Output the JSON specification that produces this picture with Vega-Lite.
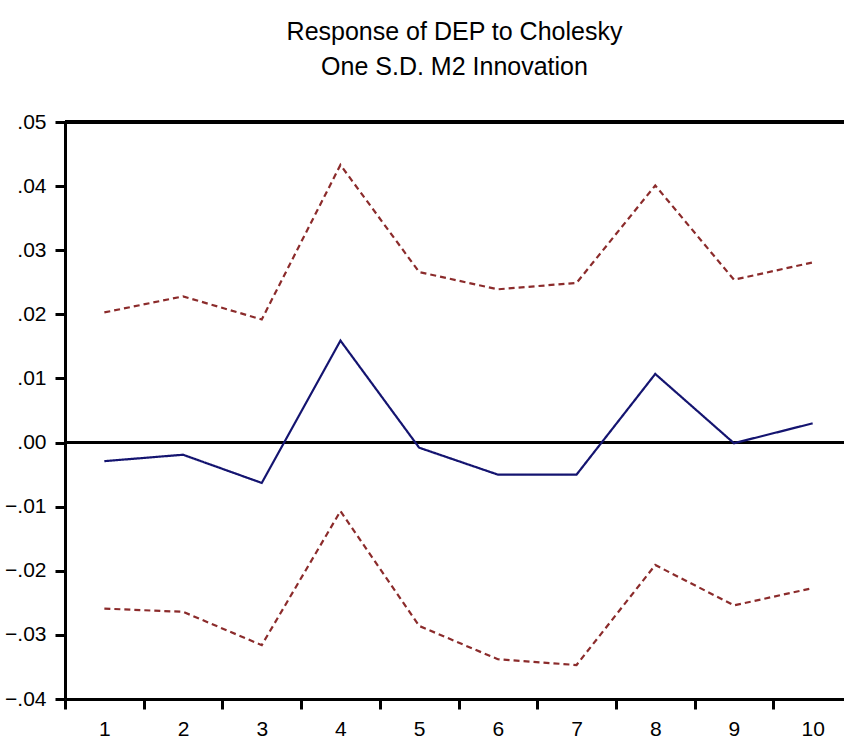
{
  "$schema": "https://vega.github.io/schema/vega-lite/v6.json",
  "width": 779,
  "height": 577,
  "autosize": {"type": "none"},
  "padding": {"left": 65, "top": 122, "right": 0, "bottom": 44},
  "background": "white",
  "title": {
    "text": ["Response of DEP to Cholesky", "One S.D. M2 Innovation"],
    "font": "Liberation Sans",
    "fontSize": 25,
    "fontWeight": "normal",
    "color": "black",
    "lineHeight": 35,
    "anchor": "middle",
    "frame": "group",
    "offset": 31
  },
  "data": {
    "values": [
      {"h": 1, "series": "Response", "value": -0.0029},
      {"h": 2, "series": "Response", "value": -0.0019},
      {"h": 3, "series": "Response", "value": -0.0063},
      {"h": 4, "series": "Response", "value": 0.0159},
      {"h": 5, "series": "Response", "value": -0.0008},
      {"h": 6, "series": "Response", "value": -0.0050},
      {"h": 7, "series": "Response", "value": -0.0050},
      {"h": 8, "series": "Response", "value": 0.0107},
      {"h": 9, "series": "Response", "value": -0.0001},
      {"h": 10, "series": "Response", "value": 0.0030},
      {"h": 1, "series": "Upper", "value": 0.0203},
      {"h": 2, "series": "Upper", "value": 0.0228},
      {"h": 3, "series": "Upper", "value": 0.0192},
      {"h": 4, "series": "Upper", "value": 0.0433},
      {"h": 5, "series": "Upper", "value": 0.0266},
      {"h": 6, "series": "Upper", "value": 0.0239},
      {"h": 7, "series": "Upper", "value": 0.0249},
      {"h": 8, "series": "Upper", "value": 0.0401},
      {"h": 9, "series": "Upper", "value": 0.0254},
      {"h": 10, "series": "Upper", "value": 0.0281},
      {"h": 1, "series": "Lower", "value": -0.0259},
      {"h": 2, "series": "Lower", "value": -0.0264},
      {"h": 3, "series": "Lower", "value": -0.0316},
      {"h": 4, "series": "Lower", "value": -0.0107},
      {"h": 5, "series": "Lower", "value": -0.0286},
      {"h": 6, "series": "Lower", "value": -0.0338},
      {"h": 7, "series": "Lower", "value": -0.0347},
      {"h": 8, "series": "Lower", "value": -0.0191},
      {"h": 9, "series": "Lower", "value": -0.0254},
      {"h": 10, "series": "Lower", "value": -0.0227}
    ]
  },
  "layer": [
    {
      "mark": {"type": "rule", "color": "black", "strokeWidth": 3},
      "encoding": {"y": {"datum": 0, "type": "quantitative"}}
    },
    {
      "mark": {"type": "rule", "color": "black", "strokeWidth": 3},
      "encoding": {"y": {"datum": 0.05, "type": "quantitative"}}
    },
    {
      "mark": {"type": "line", "strokeWidth": 2.2},
      "encoding": {
        "x": {
          "field": "h",
          "type": "ordinal",
          "bandPosition": 0.5,
          "scale": {"type": "band", "paddingInner": 0, "paddingOuter": 0, "range": [0, 787]},
          "axis": {
            "title": null,
            "labelAngle": 0,
            "tickBand": "extent",
            "tickSize": 10,
            "tickWidth": 3,
            "domainWidth": 3,
            "labelPadding": 9
          }
        },
        "y": {
          "field": "value",
          "type": "quantitative",
          "scale": {"domain": [-0.04, 0.05], "nice": false, "zero": false},
          "axis": {
            "title": null,
            "values": [-0.04, -0.03, -0.02, -0.01, 0, 0.01, 0.02, 0.03, 0.04, 0.05],
            "labelExpr": "replace(format(datum.value, '.2f'), '0.', '.')",
            "grid": false,
            "tickSize": 10,
            "tickWidth": 3,
            "domainWidth": 3,
            "labelPadding": 9
          }
        },
        "color": {
          "field": "series",
          "type": "nominal",
          "scale": {"domain": ["Response", "Upper", "Lower"], "range": ["#141470", "#8b2b2b", "#8b2b2b"]},
          "legend": null
        },
        "strokeDash": {
          "field": "series",
          "type": "nominal",
          "scale": {"domain": ["Response", "Upper", "Lower"], "range": [[1, 0], [6, 4], [6, 4]]},
          "legend": null
        }
      }
    }
  ],
  "config": {
    "view": {"stroke": null},
    "axis": {
      "labelFont": "Liberation Sans",
      "labelFontSize": 21,
      "labelColor": "black",
      "domainColor": "black",
      "tickColor": "black"
    }
  }
}
